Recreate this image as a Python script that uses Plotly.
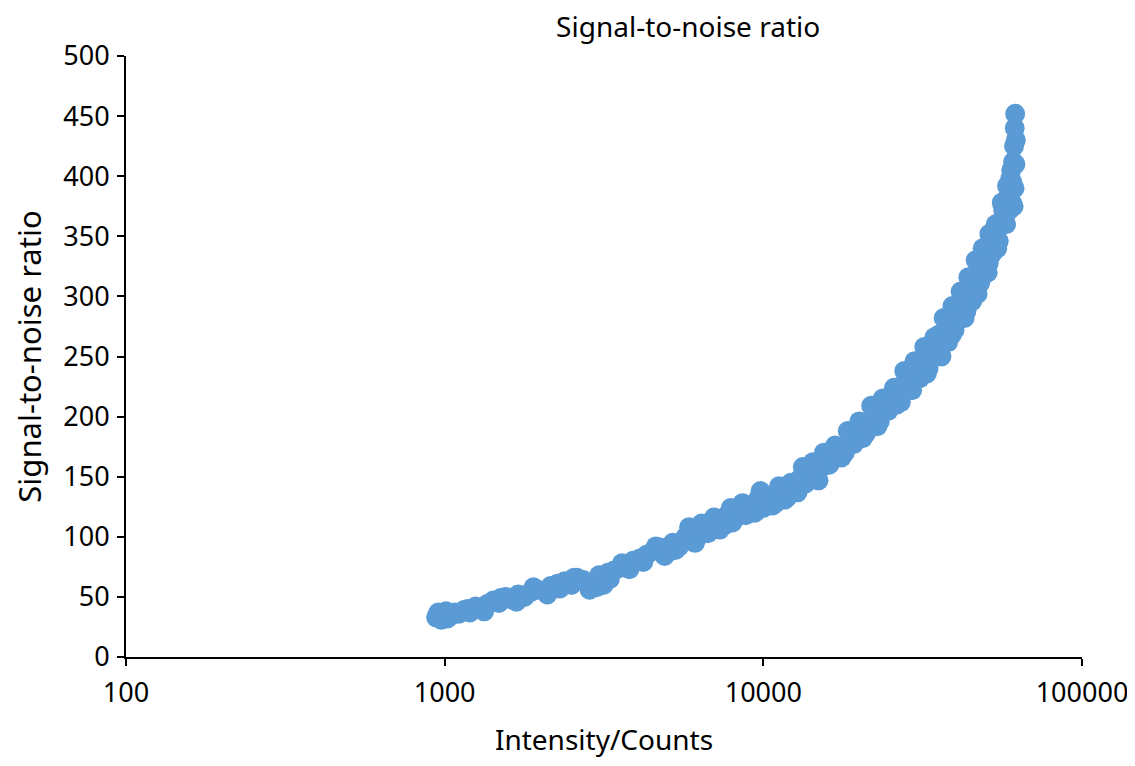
import plotly.graph_objects as go

# Intensity (counts) and signal-to-noise ratio
intensity = [
    940, 955, 975, 990, 1010, 1040, 1075, 1110, 1150, 1200,
    1250, 1300, 1360, 1420, 1480, 1550, 1620, 1700, 1780, 1860,
    1950, 2050, 2150, 2260, 2380, 2500, 2600, 2720, 2850, 2950,
    3050, 3150, 3250, 3400, 3550, 3700, 3900, 4100, 4300, 4500,
    4750, 5000, 5200, 5450, 5700, 5950, 6200, 6500, 6800, 7100,
    7400, 7700, 8000, 8400, 8800, 9200, 9600, 10000, 10400, 10900,
    11400, 11900, 12500, 13000, 13500, 14000, 14600, 15200, 15800, 16500,
    17200, 18000, 18800, 19600, 20500, 21400, 22300, 23200, 24200, 25200,
    26200, 27200, 28200, 29300, 30400, 31500, 32600, 33800, 35000, 36200,
    37400, 38600, 39800, 41000, 42200, 43400, 44600, 45800, 47000, 48200,
    49400, 50600, 51800, 53000, 54200, 55400, 56600, 57800, 58800, 59600,
    60200, 60800, 61200, 61500, 61700, 61000, 60500,
    1020, 1180, 1330, 1500, 1680, 1900, 2100, 2300, 2550, 2800,
    3000, 3300, 3600, 3800, 4200, 4600, 4900, 5300, 5600, 5850,
    6100, 6400, 6700, 7000, 7300, 7600, 7900, 8200, 8600, 9000,
    9400, 9800, 10200, 10700, 11200, 11700, 12200, 12800, 13300, 13800,
    14300, 14900, 15500, 16100, 16800, 17600, 18400, 19200, 20000, 21000,
    21800, 22800, 23700, 24700, 25700, 26700, 27700, 28700, 29800, 31000,
    32000, 33200, 34400, 35600, 36800, 38000, 39200, 40400, 41600, 42800,
    44000, 45200, 46400, 47600, 48800, 50000, 51200, 52400, 53600, 54800,
    56000, 57200, 58200, 59200, 60000, 61400, 62000, 61800,
    27000, 30000, 33000, 36000, 39000, 42000, 45000, 48000, 51000, 54000,
    35500, 40000, 44500, 49000, 53500,
]
snr = [
    33, 37, 31, 35, 38, 34, 37, 36, 39, 37,
    42, 41, 44, 47, 45, 50, 48, 52, 50, 54,
    56, 55, 59, 61, 63, 60, 66, 64, 56, 62,
    68, 60, 70, 72, 74, 77, 80, 82, 85, 88,
    91, 87, 95, 92, 100, 104, 99, 106, 110, 107,
    114, 118, 112, 122, 118, 126, 131, 124, 130, 128,
    135, 133, 140, 148, 144, 153, 150, 158, 166, 164,
    172, 170, 180, 184, 182, 193, 200, 196, 212, 218,
    210, 226, 232, 222, 240, 246, 236, 255, 262, 250,
    270, 280, 272, 290, 298, 288, 306, 315, 302, 325,
    334, 320, 345, 352, 340, 362, 372, 360, 385, 398,
    378, 412, 425, 440, 452, 375, 395,
    32, 40, 38, 49, 46, 58, 52, 57, 66, 62,
    58, 65, 78, 73, 79, 92, 84, 89, 96, 108,
    95, 111, 103, 116, 106, 110, 124, 116, 128, 121,
    120, 138, 133, 126, 142, 131, 145, 137, 158, 146,
    162, 147, 170, 160, 176, 166, 188, 177, 196, 186,
    209, 192, 215, 205, 224, 214, 238, 228, 246, 232,
    258, 246, 266, 256, 282, 262, 292, 280, 304, 282,
    316, 296, 330, 310, 340, 330, 352, 336, 360, 346,
    378, 365, 392, 372, 405, 390, 430, 410,
    212, 230, 240, 258, 268, 282, 296, 312, 328, 344,
    268, 290, 312, 336, 358,
]

x_tick_vals = [100, 1000, 10000, 100000]
x_tick_text = ["100", "1000", "10000", "100000"]
y_tick_vals = [0, 50, 100, 150, 200, 250, 300, 350, 400, 450, 500]

FONT = "Noto Sans"

fig = go.Figure()
fig.add_trace(go.Scatter(
    x=intensity, y=snr, mode="markers",
    marker=dict(color="#5B9BD5", size=20, line=dict(width=0)),
    showlegend=False,
))

# the page body has an 8px margin, so the figure is sized/margined to compensate
fig.update_layout(
    width=1127, height=750,
    margin=dict(l=118, r=53, t=48, b=101),
    paper_bgcolor="white", plot_bgcolor="white",
    font=dict(family=FONT, color="black", size=27),
    title=dict(text="Signal-to-noise ratio", x=0.588, xref="paper", xanchor="center",
               y=0.974, yref="container", yanchor="middle",
               font=dict(family=FONT, size=28, color="black")),
)
fig.update_xaxes(
    type="log", range=[2, 5], automargin=False,
    tickvals=x_tick_vals, ticktext=x_tick_text,
    showline=True, linecolor="black", linewidth=2,
    ticks="outside", ticklen=7, tickwidth=2, tickcolor="black",
    showgrid=False, zeroline=False,
    tickfont=dict(family=FONT, size=27), ticklabelstandoff=4,
    title=dict(text="Intensity/Counts", font=dict(family=FONT, size=28), standoff=30),
)
fig.update_yaxes(
    range=[0, 500], automargin=False,
    tickvals=y_tick_vals,
    showline=True, linecolor="black", linewidth=2,
    ticks="outside", ticklen=7, tickwidth=2, tickcolor="black",
    showgrid=False, zeroline=False,
    tickfont=dict(family=FONT, size=27), ticklabelstandoff=2,
    title=dict(text="Signal-to-noise ratio", font=dict(family=FONT, size=31), standoff=12),
)

fig.write_html("out.html")
